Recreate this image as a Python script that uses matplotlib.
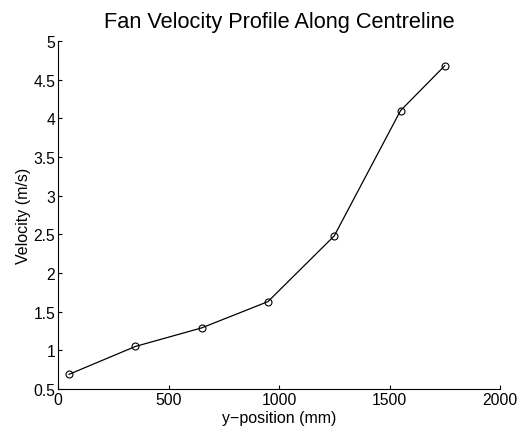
import matplotlib
matplotlib.use("Agg")
import matplotlib.pyplot as plt

y_position = [50, 350, 650, 950, 1250, 1550, 1750]
velocity = [0.69, 1.05, 1.29, 1.63, 2.48, 4.10, 4.68]
x_ticks = [0, 500, 1000, 1500, 2000]
y_ticks = [0.5, 1, 1.5, 2, 2.5, 3, 3.5, 4, 4.5, 5]
y_tick_labels = ["0.5", "1", "1.5", "2", "2.5", "3", "3.5", "4", "4.5", "5"]

plt.rcParams['font.family'] = ['Liberation Sans', 'DejaVu Sans']

fig = plt.figure(figsize=(5.29, 4.31), dpi=100)
ax = fig.add_axes([58/529, 1 - 390/431, 442/529, 348/431])
ax.plot(y_position, velocity, color='black', linewidth=0.9, marker='o',
        markersize=5, markerfacecolor='none', markeredgecolor='black', markeredgewidth=0.8)
ax.set_xlim(0, 2000)
ax.set_ylim(0.5, 5)
ax.set_xticks(x_ticks)
ax.set_yticks(y_ticks)
ax.set_yticklabels(y_tick_labels)
ax.spines['top'].set_visible(False)
ax.spines['right'].set_visible(False)
for s in ['left', 'bottom']:
    ax.spines[s].set_linewidth(0.8)
ax.tick_params(direction='in', length=3, width=0.8, labelsize=11.3, pad=2)
ax.set_xlabel('y\u2212position (mm)', fontsize=11.5, labelpad=2)
ax.set_ylabel('Velocity (m/s)', fontsize=11.5, labelpad=2)
ax.set_title('Fan Velocity Profile Along Centreline', fontsize=15.7, pad=10)
fig.savefig('out.png', dpi=100)
